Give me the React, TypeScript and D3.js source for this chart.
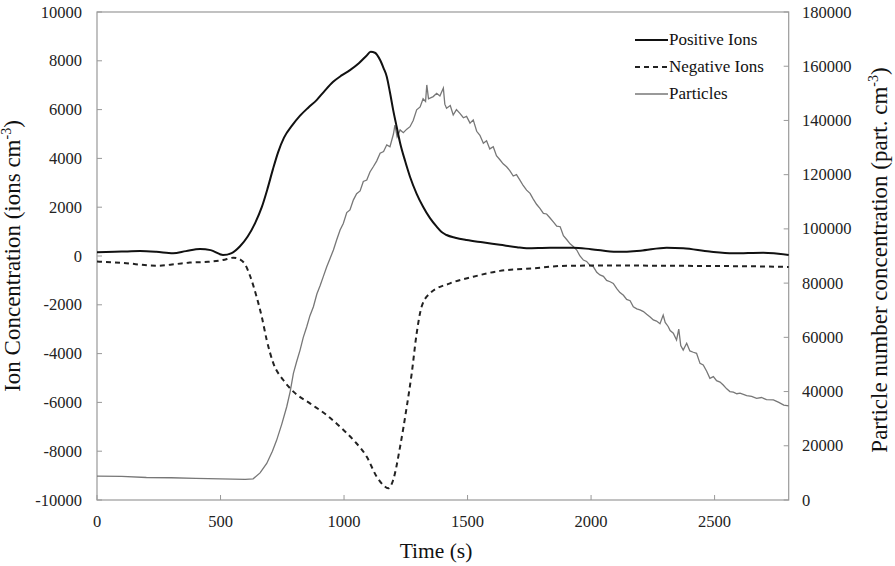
import React from "react";
import * as d3 from "d3";

// ---- Data ----
const posT = [0,100,174,240,308,360,417,460,510,545,579,610,640,667,690,712,733,757,790,822,855,889,920,956,990,1024,1060,1090,1108,1125,1146,1160,1173,1186,1199,1213,1227,1247,1267,1294,1320,1348,1375,1395,1415,1450,1496,1560,1631,1700,1739,1834,1928,2000,2104,2200,2306,2373,2480,2575,2697,2800];
const posV = [150,180,200,170,110,200,290,240,40,120,400,800,1350,2000,2750,3550,4250,4850,5350,5750,6080,6390,6750,7140,7400,7620,7900,8200,8370,8330,8030,7700,7350,6700,5980,5300,4630,3900,3250,2550,2020,1550,1200,980,860,750,655,560,460,360,320,340,340,280,170,220,340,315,180,110,135,40];

const negT = [0,100,242,320,376,450,510,552,580,600,619,646,667,687,714,754,795,862,930,984,1038,1092,1132,1160,1179,1199,1227,1254,1274,1294,1314,1348,1429,1523,1631,1766,1901,2100,2300,2500,2700,2800];
const negV = [-230,-280,-400,-330,-270,-240,-165,-70,-150,-350,-800,-1670,-2490,-3440,-4400,-5080,-5560,-6040,-6520,-7000,-7540,-8230,-9040,-9400,-9520,-9180,-7810,-6170,-4810,-3170,-2080,-1530,-1120,-850,-610,-505,-400,-390,-400,-410,-430,-450];

const parT = [0,100,200,300,400,500,600,632,660,687,710,727,748,768,782,795,808,822,835,849,862,876,890,903,916,930,943,957,970,984,997,1011,1024,1038,1051,1065,1078,1092,1105,1119,1132,1146,1160,1173,1186,1200,1206,1215,1227,1240,1254,1267,1280,1294,1308,1320,1330,1335,1342,1361,1375,1388,1402,1408,1415,1430,1442,1455,1469,1483,1496,1510,1523,1537,1550,1564,1577,1590,1604,1617,1631,1644,1658,1671,1685,1698,1712,1725,1739,1753,1766,1780,1793,1807,1820,1834,1848,1861,1875,1888,1902,1915,1928,1942,1955,1969,1982,1996,2009,2023,2036,2050,2063,2077,2090,2104,2117,2131,2144,2158,2171,2185,2198,2212,2225,2239,2252,2265,2279,2292,2300,2312,2320,2333,2346,2355,2363,2373,2387,2400,2414,2427,2441,2454,2468,2481,2495,2508,2522,2535,2549,2562,2576,2590,2603,2630,2650,2670,2690,2710,2738,2760,2780,2800];
const parV = [8800,8700,8300,8200,8000,7800,7600,7800,10000,13500,18000,22000,28000,34400,40000,46700,51000,55300,60000,63900,68000,71300,76000,79000,82400,86000,89000,92200,95900,99600,102000,106000,107000,110700,113000,114000,117500,118000,121000,123000,125000,127900,128500,131000,130300,135000,138300,134000,136500,135500,136800,137700,140000,143900,145000,148000,147000,153100,148000,148800,150000,149000,151900,146000,144500,145500,142000,144000,142600,141000,141500,139000,140200,136000,134500,131600,132500,129500,130300,127000,125500,124000,122900,121500,119500,120000,118000,116000,114300,113100,111000,109000,107600,105700,105500,104000,102500,101000,100800,97500,96000,94500,93500,92200,90000,88500,88000,86500,86100,84000,83000,82500,81000,80500,79900,78000,76500,75500,74000,73500,71300,70500,70100,69500,68500,67500,66400,66000,65000,68200,65500,64000,62500,61500,59000,63000,57000,55300,57800,55000,54500,54100,50400,49800,47500,44900,45500,44000,43500,42400,41000,40000,39800,39200,39400,38500,38200,37500,37800,37000,36900,36000,35000,34700];

const xTicks = [0, 500, 1000, 1500, 2000, 2500];
const leftTicks = [-10000,-8000,-6000,-4000,-2000,0,2000,4000,6000,8000,10000];
const rightTicks = [0,20000,40000,60000,80000,100000,120000,140000,160000,180000];
const legendItems = ["Positive Ions", "Negative Ions", "Particles"];

const W = 895, H = 566;
const L = 97, R = 788.7, T = 12, B = 500;
const FONT = "'Liberation Serif', 'Times New Roman', serif";

export default function App() {
  const x = d3.scaleLinear().domain([0, 2800]).range([L, R]);
  const yL = d3.scaleLinear().domain([-10000, 10000]).range([B, T]);
  const yR = d3.scaleLinear().domain([0, 180000]).range([B, T]);

  const ionLine = d3.line<[number, number]>().x(d => x(d[0])).y(d => yL(d[1])).curve(d3.curveMonotoneX);
  const parLine = d3.line<[number, number]>().x(d => x(d[0])).y(d => yR(d[1]));

  const posPath = ionLine(posT.map((t, i) => [t, posV[i]] as [number, number])) || "";
  const negPath = ionLine(negT.map((t, i) => [t, negV[i]] as [number, number])) || "";
  const parPath = parLine(parT.map((t, i) => [t, parV[i]] as [number, number])) || "";

  const axisColor = "#999";
  const styles = [
    { stroke: "#111", width: 2, dash: undefined as string | undefined },
    { stroke: "#222", width: 2, dash: "5,4" },
    { stroke: "#777", width: 1.3, dash: undefined as string | undefined },
  ];

  return (
    <svg width={W} height={H} style={{ position: "absolute", left: 0, top: 0, background: "#fff" }} fontFamily={FONT}>
      <rect x={0} y={0} width={W} height={H} fill="#fff" />
      {/* frame */}
      <rect x={L} y={T} width={R - L} height={B - T} fill="none" stroke={axisColor} strokeWidth={1.2} />
      {/* ticks */}
      {xTicks.map(t => (
        <g key={"x" + t}>
          <line x1={x(t)} x2={x(t)} y1={B} y2={B - 5} stroke={axisColor} />
          <text x={x(t)} y={527} fontSize={16.5} textAnchor="middle" fill="#222">{t}</text>
        </g>
      ))}
      {leftTicks.map(v => (
        <g key={"l" + v}>
          <line x1={L} x2={L + 5} y1={yL(v)} y2={yL(v)} stroke={axisColor} />
          <text x={82} y={yL(v) + 5.5} fontSize={16.5} textAnchor="end" fill="#222">{v}</text>
        </g>
      ))}
      {rightTicks.map(v => (
        <g key={"r" + v}>
          <line x1={R} x2={R - 5} y1={yR(v)} y2={yR(v)} stroke={axisColor} />
          <text x={802} y={yR(v) + 5.5} fontSize={16.5} textAnchor="start" fill="#222">{v}</text>
        </g>
      ))}
      {/* series */}
      <path d={parPath} fill="none" stroke={styles[2].stroke} strokeWidth={styles[2].width} />
      <path d={posPath} fill="none" stroke={styles[0].stroke} strokeWidth={styles[0].width} />
      <path d={negPath} fill="none" stroke={styles[1].stroke} strokeWidth={styles[1].width} strokeDasharray={styles[1].dash} />
      {/* legend */}
      {legendItems.map((name, i) => {
        const yy = 40 + i * 27;
        return (
          <g key={name}>
            <line x1={635} x2={668} y1={yy} y2={yy} stroke={styles[i].stroke} strokeWidth={styles[i].width} strokeDasharray={styles[i].dash} />
            <text x={669} y={yy + 5} fontSize={17} fill="#111">{name}</text>
          </g>
        );
      })}
      {/* axis titles */}
      <text x={436} y={558} fontSize={21.5} textAnchor="middle" fill="#111">Time (s)</text>
      <text transform={`translate(20,${(T + B) / 2}) rotate(-90)`} fontSize={23} textAnchor="middle" fill="#111">
        Ion Concentration (ions cm<tspan dy={-9} fontSize={14}>-3</tspan><tspan dy={9}>)</tspan>
      </text>
      <text transform={`translate(887,${(T + B) / 2 + 4}) rotate(-90)`} fontSize={23} textAnchor="middle" fill="#111">
        Particle number concentration (part. cm<tspan dy={-9} fontSize={14}>-3</tspan><tspan dy={9}>)</tspan>
      </text>
    </svg>
  );
}
